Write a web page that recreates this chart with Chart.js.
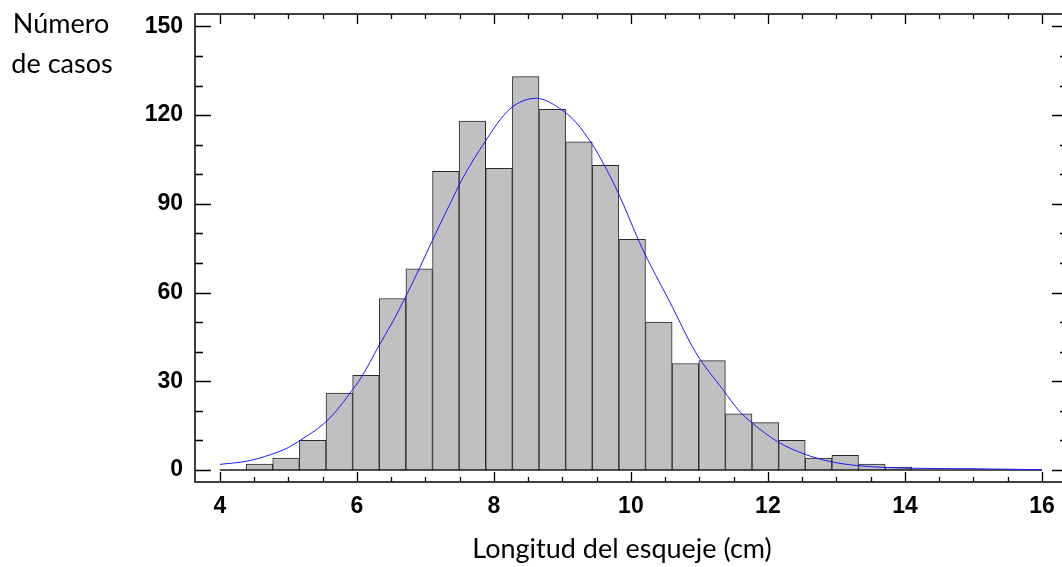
<!DOCTYPE html>
<html><head><meta charset="utf-8">
<script src="https://cdn.jsdelivr.net/npm/chart.js@4.4.1/dist/chart.umd.min.js"></script>
<style>html,body{margin:0;padding:0;overflow:hidden;background:#fff}
#wrap{position:relative;width:1070px;height:567px}</style></head>
<body><div id="wrap"><canvas id="c" width="1070" height="567"></canvas></div>
<script>
// Histogram bins (centres, cm) and counts
const binCenters = [4.578, 4.967, 5.356, 5.744, 6.133, 6.521, 6.910, 7.299, 7.687, 8.076,
  8.465, 8.853, 9.242, 9.630, 10.019, 10.408, 10.796, 11.185, 11.574, 11.962,
  12.351, 12.739, 13.128, 13.517, 13.905];
const binCounts = [2, 4, 10, 26, 32, 58, 68, 101, 118, 102,
  133, 122, 111, 103, 78, 50, 36, 37, 19, 16,
  10, 4, 5, 2, 1];
// Fitted curve
const curveX = [4.0, 4.4, 4.74, 5.0, 5.17, 5.51, 5.70, 5.90, 6.07, 6.31, 6.53, 6.73, 6.92, 7.10, 7.36, 7.53,
  7.87, 8.23, 8.62, 8.96, 9.20, 9.44, 9.59, 9.81, 10.17, 10.56, 10.95, 11.35, 11.58, 11.77,
  12.14, 12.53, 12.92, 13.30, 13.69, 14.09, 15.07, 16.0];
const curveY = [1.9, 3.0, 5.2, 7.6, 10.0, 15.5, 20.0, 26.0, 31.5, 41.5, 50.4, 59.4, 68.5, 77.5, 90.0, 98.0,
  111.0, 122.0, 125.7, 122.3, 117.5, 110.0, 104.0, 94.0, 74.7, 57.2, 39.6, 27.0, 20.0, 15.9,
  9.6, 5.4, 2.8, 1.5, 0.9, 0.6, 0.4, 0.1];
const zeroLineX = [4, 16];
const xTickValues = [4, 6, 8, 10, 12, 14, 16];
const yTickValues = [0, 30, 60, 90, 120, 150];
const yTitleLines = ['Número', 'de casos'];
const xTitle = 'Longitud del esqueje (cm)';

const frameAndTitles = {
  id: 'frameAndTitles',
  afterDraw(chart) {
    const ctx = chart.ctx, a = chart.chartArea;
    const xs = chart.scales.x, ys = chart.scales.y;
    ctx.save();
    ctx.strokeStyle = '#000';
    ctx.lineWidth = 1.5;
    ctx.strokeRect(a.left, a.top, a.right - a.left, a.bottom - a.top);
    ctx.lineWidth = 1.3;
    ctx.beginPath();
    for (let v = xTickValues[0]; v <= xTickValues[xTickValues.length - 1] + 1e-9; v += 0.5) {
      const px = Math.round(xs.getPixelForValue(v)) + 0.5;
      const major = xTickValues.includes(v);
      ctx.moveTo(px, a.bottom); ctx.lineTo(px, a.bottom - (major ? 10 : 5));
      ctx.moveTo(px, a.top); ctx.lineTo(px, a.top + (major ? 10 : 5));
    }
    for (let v = yTickValues[0]; v <= yTickValues[yTickValues.length - 1] + 1e-9; v += 10) {
      const py = Math.round(ys.getPixelForValue(v)) + 0.5;
      const major = yTickValues.includes(v);
      ctx.moveTo(a.left, py); ctx.lineTo(a.left + (major ? 16 : 8), py);
      ctx.moveTo(a.right, py); ctx.lineTo(a.right - (major ? 16 : 8), py);
    }
    ctx.stroke();
    ctx.fillStyle = '#000';
    ctx.font = '27px Lato';
    ctx.textAlign = 'center';
    ctx.textBaseline = 'alphabetic';
    ctx.fillText(yTitleLines[0], 61, 33);
    ctx.fillText(yTitleLines[1], 62, 73);
    ctx.fillText(xTitle, 622, 558);
    ctx.restore();
  }
};

new Chart(document.getElementById('c'), {
  data: {
    datasets: [
      {
        type: 'line',
        data: curveX.map((x, i) => ({x, y: curveY[i]})),
        borderColor: '#1a1aff', borderWidth: 1, pointRadius: 0,
        cubicInterpolationMode: 'monotone', order: 0
      },
      {
        type: 'line',
        data: zeroLineX.map(x => ({x, y: 0})),
        borderColor: '#1a1a1a', borderWidth: 1.5, pointRadius: 0, order: 1
      },
      {
        type: 'bar',
        data: binCenters.map((x, i) => ({x, y: binCounts[i]})),
        backgroundColor: '#c0c0c0', borderColor: '#2a2a2a',
        borderWidth: {top: 1, left: 1, right: 1, bottom: 0},
        barPercentage: 1, categoryPercentage: 1, order: 2
      }
    ]
  },
  options: {
    responsive: false, animation: false, devicePixelRatio: 1,
    layout: {padding: {left: 0, top: 14, right: 2, bottom: 0}},
    plugins: {legend: {display: false}, tooltip: {enabled: false}},
    scales: {
      x: {
        type: 'linear', min: 3.638, max: 16.38, offset: false,
        grid: {display: false, drawTicks: false, offset: false}, border: {display: false},
        afterBuildTicks: s => { s.ticks = xTickValues.map(v => ({value: v})); },
        afterFit: s => { s.height = 85; s.paddingLeft = 0; s.paddingRight = 0; },
        ticks: {autoSkip: false, maxRotation: 0, padding: 11, color: '#000',
          font: {family: 'Liberation Sans', weight: 'bold', size: 23}}
      },
      y: {
        type: 'linear', min: -4.06, max: 154.2,
        grid: {display: false, drawTicks: false}, border: {display: false},
        afterBuildTicks: s => { s.ticks = yTickValues.map(v => ({value: v})); },
        afterFit: s => { s.width = 195; s.paddingTop = 0; s.paddingBottom = 0; },
        ticks: {padding: 12, color: '#000',
          font: {family: 'Liberation Sans', weight: 'bold', size: 23}}
      }
    }
  },
  plugins: [frameAndTitles]
});
</script></body></html>
